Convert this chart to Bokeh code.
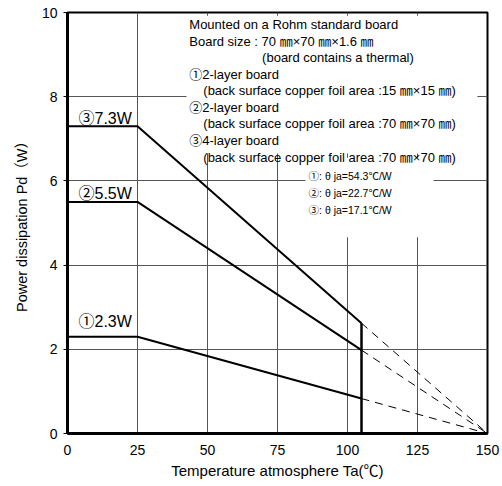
from bokeh.plotting import figure
from bokeh.models import FixedTicker, ColumnDataSource
from bokeh.core.properties import value
from bokeh.embed import file_html
from bokeh.resources import INLINE

# ---- data ----
x_ticks = [0, 25, 50, 75, 100, 125, 150]
y_ticks = [0, 2, 4, 6, 8, 10]
series_names = ["①2.3W", "②5.5W", "③7.3W"]
pd_max = [2.3, 5.5, 7.3]           # W, flat up to 25 °C
theta_ja = [54.3, 22.7, 17.1]       # °C/W
t_flat = 25
t_limit = 105
t_zero = 150
pd_at_limit = [0.83, 1.98, 2.62]    # W at 105 °C

note_lines = [
    "Mounted on a Rohm standard board",
    "Board size : 70 ㎜×70 ㎜×1.6 ㎜",
    "(board contains a thermal)",
    "①2-layer board",
    "(back surface copper foil area :15 ㎜×15 ㎜)",
    "②2-layer board",
    "(back surface copper foil area :70 ㎜×70 ㎜)",
    "③4-layer board",
    "(back surface copper foil area :70 ㎜×70 ㎜)",
]
theta_lines = ["①: θ ja=54.3℃/W", "②: θ ja=22.7℃/W", "③: θ ja=17.1℃/W"]

FONT = "'Liberation Sans', 'Noto Sans CJK JP'"

p = figure(width=502, height=486, output_backend="svg", toolbar_location=None,
           x_range=(0, 150), y_range=(0, 10),
           min_border_left=67, min_border_right=15, min_border_top=12, min_border_bottom=53)
p.background_fill_color = "white"
p.border_fill_color = "white"
p.outline_line_color = "black"
p.outline_line_width = 2

p.xaxis.ticker = FixedTicker(ticks=x_ticks)
p.yaxis.ticker = FixedTicker(ticks=y_ticks)
p.xgrid.ticker = FixedTicker(ticks=x_ticks)
p.ygrid.ticker = FixedTicker(ticks=y_ticks)
for g in (p.xgrid, p.ygrid):
    g.grid_line_color = "#555555"
    g.grid_line_width = 1
    g.grid_line_alpha = 1

for ax in (p.xaxis, p.yaxis):
    ax.axis_line_color = "black"
    ax.axis_line_width = 3
    ax.major_tick_in = 0
    ax.minor_tick_in = 0
    ax.minor_tick_out = 0
    ax.major_label_text_font = FONT
    ax.major_label_text_font_size = "14px"
    ax.major_label_text_color = "black"
    ax.axis_label_text_font = FONT
    ax.axis_label_text_font_style = "normal"
    ax.axis_label_text_color = "black"

p.xaxis.axis_label_text_font_size = "15px"
p.yaxis.axis_label_text_font_size = "14.5px"
p.xaxis.major_tick_out = 0
p.xaxis.major_label_standoff = 11
p.xaxis.axis_label_standoff = 4
p.yaxis.major_tick_out = 4
p.yaxis.major_tick_line_color = "black"
p.yaxis.major_label_standoff = 6
p.yaxis.axis_label_standoff = 9
p.xaxis.axis_label = "Temperature atmosphere Ta(℃)"
p.yaxis.axis_label = "Power dissipation Pd（W）"

# white boxes hiding the grid behind the notes
p.quad(left=[42.5], right=[146.4], bottom=[6.65], top=[9.92], fill_color="white", line_color=None)
p.quad(left=[85], right=[130.7], bottom=[4.66], top=[6.55], fill_color="white", line_color=None)

# derating curves
for pm, pl in zip(pd_max, pd_at_limit):
    p.line([0, t_flat, t_limit], [pm, pm, pl], line_color="black", line_width=2)
    p.line([t_limit, t_zero], [pl, 0], line_color="black", line_width=1, line_dash="8 6")

# thick line at 105 °C limit and along zero
p.line([t_limit, t_limit], [0, max(pd_at_limit)], line_color="black", line_width=2.5)
p.line([t_limit, t_zero], [0, 0], line_color="black", line_width=3)

# curve labels
src = ColumnDataSource(dict(x=[0, 0, 0], y=pd_max, t=series_names,
                            xo=[11, 11, 11], yo=[-15, -8, -8]))
p.text(x="x", y="y", text="t", source=src, x_offset="xo", y_offset="yo",
       text_font=value(FONT), text_font_size="16px", text_baseline="alphabetic",
       text_align="left", text_color="black")

# notes
note_x = [43.5, 43.5, 69.5, 43.5, 48.5, 43.5, 48.5, 43.5, 48.5]
note_y = [9.71 - 0.393 * i for i in range(len(note_lines))]
p.text(x=note_x, y=note_y, text=note_lines, text_font=value(FONT), text_font_size="13px",
       text_baseline="middle", text_align="left", text_color="black")

th_y = [6.11, 5.71, 5.30]
p.text(x=[86.1] * 3, y=th_y, text=theta_lines, text_font=value(FONT), text_font_size="10.5px",
       text_baseline="middle", text_align="left", text_color="black")

open("out.html", "w").write(file_html(p, INLINE))
